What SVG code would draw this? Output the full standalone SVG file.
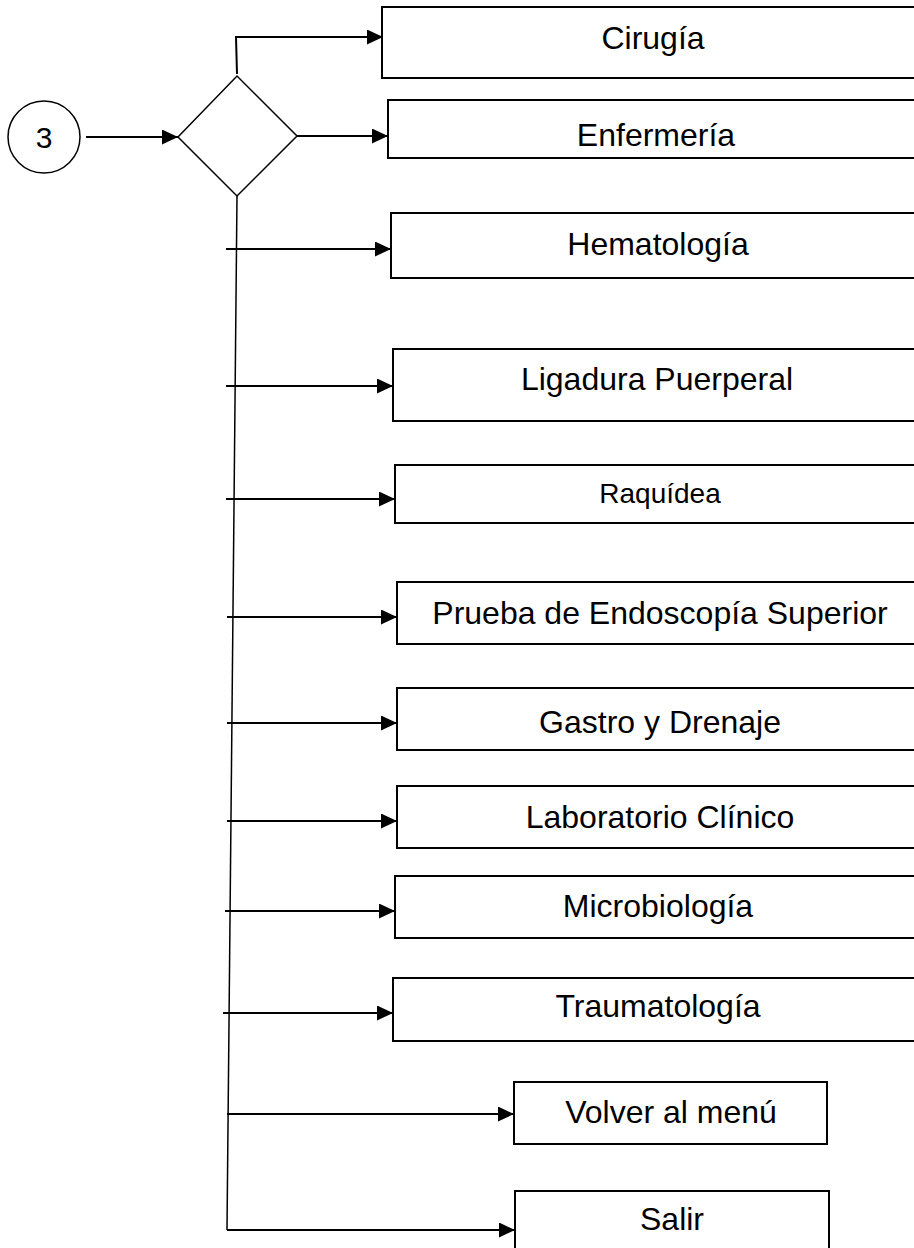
<svg xmlns="http://www.w3.org/2000/svg" width="914" height="1248" viewBox="0 0 914 1248">
<style>
.box{fill:#fff;stroke:#000;stroke-width:2}
.lbl{font-family:"Liberation Sans",Arial,sans-serif;font-size:32px;fill:#000;text-anchor:middle}
.con{fill:none;stroke:#000;stroke-width:2}
.thin{fill:none;stroke:#000;stroke-width:1.5}
</style>
<defs>
<marker id="ah" markerUnits="userSpaceOnUse" markerWidth="16" markerHeight="15" refX="16" refY="7.5" orient="auto">
<path d="M0,0 L16,7.5 L0,15 z" fill="#000"/>
</marker>
</defs>
<rect width="914" height="1248" fill="#fff"/>
<g id="start">
<circle cx="44" cy="137" r="36" class="thin"/>
<text x="44" y="148" class="lbl" style="font-size:30px">3</text>
</g>
<g id="decision">
<polygon points="178,137 237,76 297,136 237,196" class="thin" fill="#fff"/>
</g>
<g id="connectors">
<line x1="86" y1="137" x2="178" y2="137" class="con" marker-end="url(#ah)"/>
<polyline points="237,74 236,37 383,37" class="con" marker-end="url(#ah)"/>
<line x1="297" y1="136" x2="388" y2="136" class="con" marker-end="url(#ah)"/>
<line x1="237" y1="196" x2="227" y2="1230" class="thin"/>
<line x1="226" y1="249" x2="391" y2="249" class="con" marker-end="url(#ah)"/>
<line x1="226" y1="386" x2="393" y2="386" class="con" marker-end="url(#ah)"/>
<line x1="226" y1="499" x2="395" y2="499" class="con" marker-end="url(#ah)"/>
<line x1="227" y1="617" x2="397" y2="617" class="con" marker-end="url(#ah)"/>
<line x1="227" y1="723" x2="397" y2="723" class="con" marker-end="url(#ah)"/>
<line x1="227" y1="821" x2="397" y2="821" class="con" marker-end="url(#ah)"/>
<line x1="225" y1="911" x2="395" y2="911" class="con" marker-end="url(#ah)"/>
<line x1="223" y1="1013" x2="393" y2="1013" class="con" marker-end="url(#ah)"/>
<line x1="227" y1="1114" x2="514" y2="1114" class="con" marker-end="url(#ah)"/>
<line x1="227" y1="1230" x2="515" y2="1230" class="con" marker-end="url(#ah)"/>
</g>
<g id="cirugia"><rect x="382" y="7" width="540" height="71" class="box"/><text x="653" y="49" class="lbl">Cirugía</text></g>
<g id="enfermeria"><rect x="388" y="100" width="534" height="58" class="box"/><text x="656" y="146" class="lbl">Enfermería</text></g>
<g id="hematologia"><rect x="391" y="213" width="531" height="65" class="box"/><text x="658" y="255" class="lbl">Hematología</text></g>
<g id="ligadura"><rect x="393" y="349" width="529" height="72" class="box"/><text x="657" y="390" class="lbl">Ligadura Puerperal</text></g>
<g id="raquidea"><rect x="395" y="465" width="527" height="58" class="box"/><text x="660" y="503" class="lbl" style="font-size:28px">Raquídea</text></g>
<g id="endoscopia"><rect x="397" y="582" width="525" height="62" class="box"/><text x="660" y="624" class="lbl">Prueba de Endoscopía Superior</text></g>
<g id="gastro"><rect x="397" y="688" width="525" height="62" class="box"/><text x="660" y="733" class="lbl">Gastro y Drenaje</text></g>
<g id="laboratorio"><rect x="397" y="786" width="525" height="62" class="box"/><text x="660" y="828" class="lbl">Laboratorio Clínico</text></g>
<g id="microbiologia"><rect x="395" y="876" width="527" height="62" class="box"/><text x="658" y="917" class="lbl">Microbiología</text></g>
<g id="traumatologia"><rect x="393" y="978" width="529" height="63" class="box"/><text x="658" y="1017" class="lbl">Traumatología</text></g>
<g id="volver"><rect x="514" y="1082" width="313" height="62" class="box"/><text x="671" y="1123" class="lbl">Volver al menú</text></g>
<g id="salir"><rect x="515" y="1191" width="314" height="70" class="box"/><text x="672" y="1230" class="lbl">Salir</text></g>
</svg>
